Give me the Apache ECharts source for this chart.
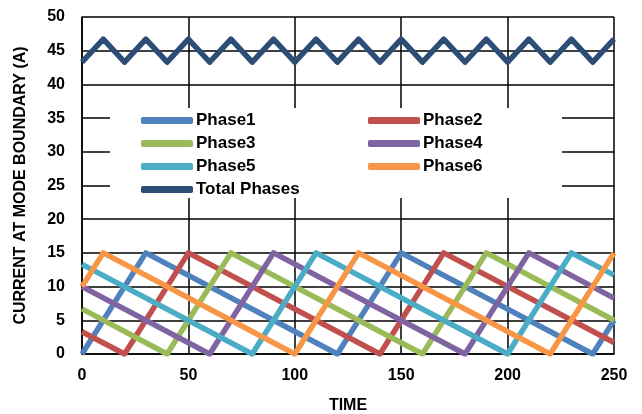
<!DOCTYPE html>
<html>
<head>
<meta charset="utf-8">
<script src="https://cdn.jsdelivr.net/npm/echarts@6/dist/echarts.min.js"></script>
<style>
  html, body { margin: 0; padding: 0; background: #fff; }
  #chart { width: 642px; height: 414px; }
</style>
</head>
<body>
<div id="chart"></div>
<script>
// vertices of each phase current (time, amps)
const phase1X = [0, 30, 120, 150, 240, 250];
const phase1Y = [0, 15, 0, 15, 0, 5];
const phase2X = [0, 20, 50, 140, 170, 250];
const phase2Y = [3.3, 0, 15, 0, 15, 1.7];
const phase3X = [0, 40, 70, 160, 190, 250];
const phase3Y = [6.7, 0, 15, 0, 15, 5];
const phase4X = [0, 60, 90, 180, 210, 250];
const phase4Y = [10, 0, 15, 0, 15, 8.3];
const phase5X = [0, 80, 110, 200, 230, 250];
const phase5Y = [13.3, 0, 15, 0, 15, 11.7];
const phase6X = [0, 10, 100, 130, 220, 250];
const phase6Y = [10, 15, 0, 15, 0, 15];
const totalX = [0, 10, 20, 30, 40, 50, 60, 70, 80, 90, 100, 110, 120, 130, 140, 150, 160, 170, 180, 190, 200, 210, 220, 230, 240, 250];
const totalY = [43.3, 46.7, 43.3, 46.7, 43.3, 46.7, 43.3, 46.7, 43.3, 46.7, 43.3, 46.7, 43.3, 46.7, 43.3, 46.7, 43.3, 46.7, 43.3, 46.7, 43.3, 46.7, 43.3, 46.7, 43.3, 46.7];

const seriesNames = ["Phase1", "Phase2", "Phase3", "Phase4", "Phase5", "Phase6", "Total Phases"];
const seriesColors = ["#4F81BD", "#C0504D", "#9BBB59", "#8064A2", "#4BACC6", "#F79646", "#2C4D75"];

const xs = [phase1X, phase2X, phase3X, phase4X, phase5X, phase6X, totalX];
const ys = [phase1Y, phase2Y, phase3Y, phase4Y, phase5Y, phase6Y, totalY];

const font = "'Liberation Sans', Arial, sans-serif";

let chart = echarts.init(document.getElementById("chart"));

chart.setOption({
  animation: false,
  color: seriesColors,
  grid: {
    left: 82,
    right: 28,
    top: 17,
    bottom: 60,
    outerBoundsMode: "none",
    containLabel: false,
  },
  legend: {
    left: 110,
    top: 108,
    width: 420,
    orient: "horizontal",
    icon: "roundRect",
    itemWidth: 52,
    itemHeight: 7,
    itemGap: 6,
    itemStyle: { borderWidth: 0 },
    padding: [4, 39, 0, 31],
    backgroundColor: "#fff",
    textStyle: {
      fontFamily: font,
      fontWeight: "bold",
      fontSize: 17,
      color: "#000",
      lineHeight: 16,
      width: 166,
      padding: [0, 0, 0, -2],
    },
    data: seriesNames.map((n, i) => ({
      name: n,
      textStyle: i % 2 === 1 && i < 6 ? { width: 100 } : {},
    })),
  },
  xAxis: {
    type: "value",
    min: 0,
    max: 250,
    interval: 50,
    name: "TIME",
    nameLocation: "middle",
    nameGap: 44,
    nameTextStyle: {
      fontFamily: font,
      fontWeight: "bold",
      fontSize: 16,
      color: "#000",
    },
    axisLine: { show: true, lineStyle: { color: "#000", width: 1.5 } },
    axisTick: { show: false },
    axisLabel: {
      margin: 14,
      fontFamily: font,
      fontWeight: "bold",
      fontSize: 16,
      color: "#000",
    },
    splitLine: { show: true, lineStyle: { color: "#000", width: 1.5 } },
  },
  yAxis: {
    type: "value",
    min: 0,
    max: 50,
    interval: 5,
    name: "CURRENT AT MODE BOUNDARY (A)",
    nameLocation: "middle",
    nameGap: 53,
    nameTextStyle: {
      fontFamily: font,
      fontWeight: "bold",
      fontSize: 16,
      color: "#000",
    },
    axisLine: { show: true, lineStyle: { color: "#000", width: 1.5 } },
    axisTick: { show: false },
    axisLabel: {
      margin: 17,
      fontFamily: font,
      fontWeight: "bold",
      fontSize: 16,
      color: "#000",
    },
    splitLine: { show: true, lineStyle: { color: "#000", width: 1.5 } },
  },
  series: seriesNames.map((name, i) => ({
    name: name,
    type: "line",
    data: xs[i].map((x, j) => [x, ys[i][j]]),
    showSymbol: false,
    symbol: "none",
    lineStyle: { width: 5.5, color: seriesColors[i], join: "round" },
    itemStyle: { color: seriesColors[i] },
  })),
});
</script>
</body>
</html>
